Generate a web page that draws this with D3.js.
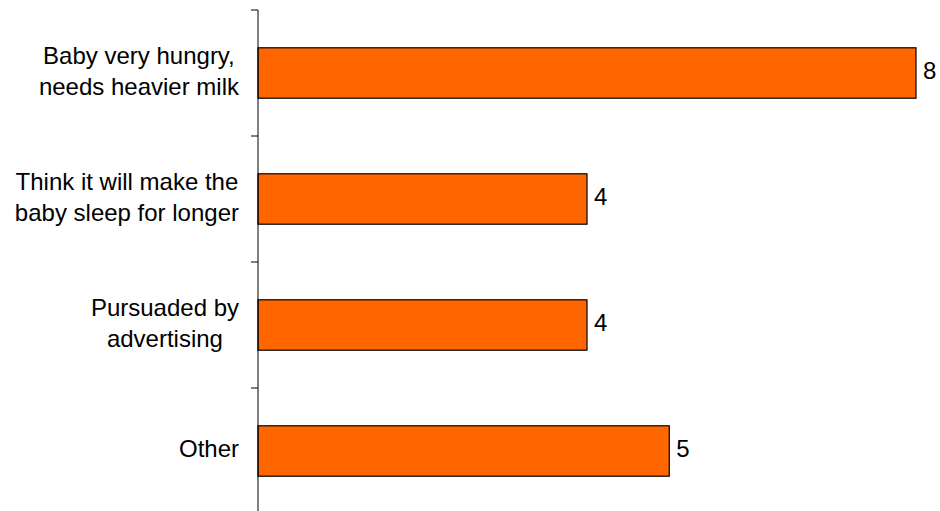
<!DOCTYPE html>
<html>
<head>
<meta charset="utf-8">
<script src="https://cdn.jsdelivr.net/npm/d3@7"></script>
<style>
  html, body { margin: 0; padding: 0; background: #fff; }
  svg { display: block; font-family: "Liberation Sans", Arial, sans-serif; }
</style>
</head>
<body>
<svg id="chart" width="940" height="511"></svg>
<script>
// Reasons for switching to a heavier formula milk
const categories = [
  ["Baby very hungry,", "needs heavier milk"],
  ["Think it will make the", "baby sleep for longer"],
  ["Pursuaded by", "advertising"],
  ["Other"]
];
const values = [8, 4, 4, 5];

const svg = d3.select("#chart");
const axisX = 258;
const plotTop = 10, plotBottom = 514;
const labelRight = 239;

const keys = categories.map((c, i) => i);
const y = d3.scaleBand()
  .domain(keys)
  .range([plotTop, plotBottom])
  .paddingInner(0.6)
  .paddingOuter(0.3);

const x = d3.scaleLinear().domain([0, 8]).range([axisX, 916]);

// Bars
svg.append("g").selectAll("rect")
  .data(values)
  .join("rect")
  .attr("x", x(0))
  .attr("y", (d, i) => y(i))
  .attr("width", d => x(d) - x(0))
  .attr("height", y.bandwidth())
  .attr("fill", "#FF6600")
  .attr("stroke", "#000")
  .attr("stroke-width", 1.2);

// Category axis line with ticks between categories
const step = y.step();
const tickYs = d3.range(categories.length + 1).map(i => plotTop + i * step);
svg.append("line")
  .attr("x1", axisX).attr("x2", axisX)
  .attr("y1", plotTop).attr("y2", plotBottom)
  .attr("stroke", "#000").attr("stroke-width", 1);
svg.append("g").selectAll("line")
  .data(tickYs)
  .join("line")
  .attr("x1", axisX - 7).attr("x2", axisX)
  .attr("y1", d => d).attr("y2", d => d)
  .attr("stroke", "#000").attr("stroke-width", 1);

// Category labels: lines centred within a block that sits against the axis
const fs = 24, lh = 31, baseShift = 6;
const labels = svg.append("g").selectAll("text")
  .data(categories)
  .join("text")
  .attr("text-anchor", "middle")
  .attr("font-size", fs)
  .attr("fill", "#000");
labels.each(function(lines, i) {
  const cy = y(i) + y.bandwidth() / 2;
  const y0 = cy - (lines.length - 1) * lh / 2 + baseShift;
  const tspans = d3.select(this).selectAll("tspan")
    .data(lines)
    .join("tspan")
    .attr("y", (d, j) => y0 + j * lh)
    .text(d => d);
  const maxW = d3.max(tspans.nodes(), n => n.getComputedTextLength());
  tspans.attr("x", labelRight - maxW / 2);
});

// Value labels
svg.append("g").selectAll("text")
  .data(values)
  .join("text")
  .attr("x", d => x(d) + 7)
  .attr("y", (d, i) => y(i) + y.bandwidth() / 2 + baseShift)
  .attr("font-size", fs)
  .attr("fill", "#000")
  .text(d => d);
</script>
</body>
</html>
